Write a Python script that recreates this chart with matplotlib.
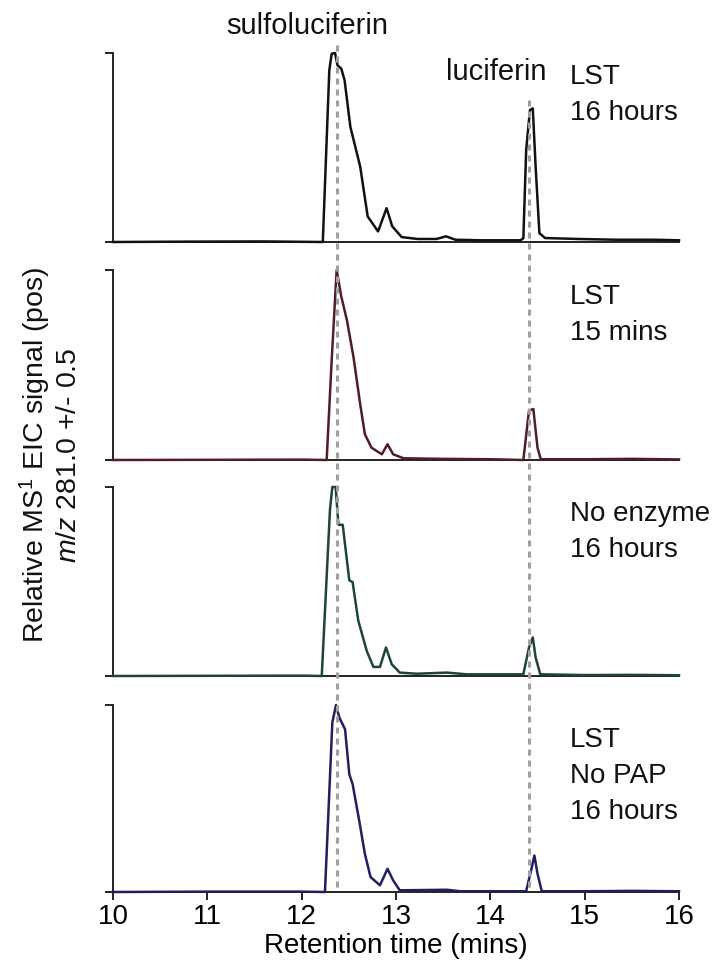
import matplotlib
matplotlib.use("Agg")
import matplotlib.pyplot as plt
from matplotlib.lines import Line2D
from matplotlib.transforms import blended_transform_factory

plt.rcParams['font.family'] = ['Liberation Sans', 'DejaVu Sans']
plt.rcParams['mathtext.fontset'] = 'custom'
plt.rcParams['mathtext.rm'] = 'Liberation Sans'
plt.rcParams['mathtext.it'] = 'Liberation Sans:italic'

# retention times (mins) and relative signal
rt_1 = [10.0, 10.8, 11.6, 12.224, 12.293, 12.318, 12.354, 12.38, 12.42, 12.455, 12.516,
        12.62, 12.70, 12.81, 12.90, 12.96, 13.06, 13.23, 13.43, 13.53, 13.63, 13.91,
        14.32, 14.35, 14.38, 14.42, 14.45, 14.48, 14.52, 14.58, 14.93, 15.33, 15.74, 16.0]
sig_1 = [0.0, 0.002, 0.003, 0.0, 0.909, 0.996, 1.0, 0.935, 0.917, 0.856, 0.61,
         0.40, 0.135, 0.056, 0.179, 0.083, 0.026, 0.016, 0.016, 0.03, 0.012, 0.009,
         0.009, 0.02, 0.487, 0.698, 0.707, 0.40, 0.047, 0.021, 0.016, 0.012, 0.012, 0.009]

rt_2 = [10.0, 11.0, 12.0, 12.265, 12.318, 12.371, 12.42, 12.48, 12.55, 12.62, 12.67,
        12.74, 12.85, 12.91, 12.97, 13.08, 13.5, 14.0, 14.35, 14.41, 14.456, 14.50,
        14.535, 15.0, 15.5, 16.0]
sig_2 = [0.0, 0.001, 0.002, 0.0, 0.524, 1.0, 0.86, 0.735, 0.54, 0.295, 0.136,
         0.065, 0.03, 0.083, 0.03, 0.009, 0.006, 0.004, 0.0, 0.26, 0.268, 0.065,
         0.004, 0.004, 0.006, 0.003]

rt_3 = [10.0, 11.0, 12.0, 12.213, 12.30, 12.325, 12.36, 12.39, 12.435, 12.505, 12.54,
        12.60, 12.69, 12.76, 12.83, 12.894, 12.955, 13.04, 13.22, 13.54, 13.75, 14.35,
        14.41, 14.45, 14.48, 14.53, 15.0, 15.5, 16.0]
sig_3 = [0.0, 0.001, 0.002, 0.0, 0.88, 1.0, 1.0, 0.8, 0.8, 0.506, 0.497,
         0.293, 0.133, 0.048, 0.048, 0.151, 0.062, 0.018, 0.012, 0.018, 0.009, 0.009,
         0.151, 0.204, 0.098, 0.009, 0.005, 0.006, 0.004]

rt_4 = [10.0, 11.0, 12.0, 12.247, 12.325, 12.364, 12.40, 12.46, 12.505, 12.54, 12.61,
        12.67, 12.73, 12.83, 12.91, 12.97, 13.04, 13.54, 13.68, 14.38, 14.44, 14.467,
        14.50, 14.545, 15.0, 15.5, 16.0]
sig_4 = [0.0, 0.002, 0.002, 0.0, 0.906, 1.0, 0.932, 0.87, 0.63, 0.577, 0.382,
         0.204, 0.08, 0.036, 0.124, 0.062, 0.009, 0.012, 0.004, 0.004, 0.133, 0.195,
         0.098, 0.004, 0.004, 0.006, 0.004]

traces = [(rt_1, sig_1), (rt_2, sig_2), (rt_3, sig_3), (rt_4, sig_4)]
sample_labels = ["LST\n16 hours", "LST\n15 mins", "No enzyme\n16 hours", "LST\nNo PAP\n16 hours"]
line_colors = ["#111111", "#4e1e22", "#1d4636", "#1e2060"]
compound_names = ["sulfoluciferin", "luciferin"]
compound_rt = [12.37, 14.41]
x_ticks = [10, 11, 12, 13, 14, 15, 16]

W, H = 725, 965
fig = plt.figure(figsize=(W / 100, H / 100), dpi=100)

left = 113 / W
width = (679 - 113) / W
# (top, baseline) in pixels for each panel
panel_px = [(53, 242), (270, 460), (487, 676), (705, 892)]
label_y = [0.94, 0.925, 0.925, 0.88]

axes = []
for i, (top, base) in enumerate(panel_px):
    ax = fig.add_axes([left, 1 - base / H, width, (base - top) / H])
    rt, sig = traces[i]
    ax.plot(rt, sig, color=line_colors[i], lw=1.8, clip_on=False, zorder=3)
    ax.set_xlim(10, 16)
    ax.set_ylim(0, 1)
    for s in ["top", "right"]:
        ax.spines[s].set_visible(False)
    for s in ["left", "bottom"]:
        ax.spines[s].set_linewidth(1.4)
        ax.spines[s].set_color("#222222")
    ax.set_yticks([0, 1])
    ax.set_yticklabels([])
    ax.tick_params(axis="y", direction="out", length=6, width=1.4, color="#222222")
    if i < 3:
        ax.set_xticks([])
    else:
        ax.set_xticks(x_ticks)
        ax.tick_params(axis="x", direction="out", length=6, width=1.4, color="#222222",
                       labelsize=20, pad=3)
        ax.set_xlabel("Retention time (mins)", fontsize=20, labelpad=2)
    ax.text(0.807, label_y[i], sample_labels[i], transform=ax.transAxes, fontsize=20,
            ha="left", va="top", color="#111111", linespacing=1.5)
    axes.append(ax)

# dashed guide lines running through all panels
trans = blended_transform_factory(axes[3].transData, fig.transFigure)
line_top_px = [45, 100]
for rt_c, ytop in zip(compound_rt, line_top_px):
    fig.add_artist(Line2D([rt_c, rt_c], [1 - ytop / H, 1 - 888 / H], transform=trans,
                          color="#a0a0a0", lw=2.2, linestyle=(0, (2.0, 1.6)), zorder=1))

fig.text(12.06, 1 - 26 / H, compound_names[0], transform=trans, fontsize=21,
         ha="center", va="center", color="#111111")
fig.text(14.06, 1 - 72 / H, compound_names[1], transform=trans, fontsize=21,
         ha="center", va="center", color="#111111")

fig.text(50 / W, 1 - 455 / H,
         "Relative MS$^1$ EIC signal (pos)\n$m/z$ 281.0 +/- 0.5",
         rotation=90, fontsize=20.5, ha="center", va="center", multialignment="center",
         color="#111111", linespacing=1.15)

fig.savefig("out.png", dpi=100)
